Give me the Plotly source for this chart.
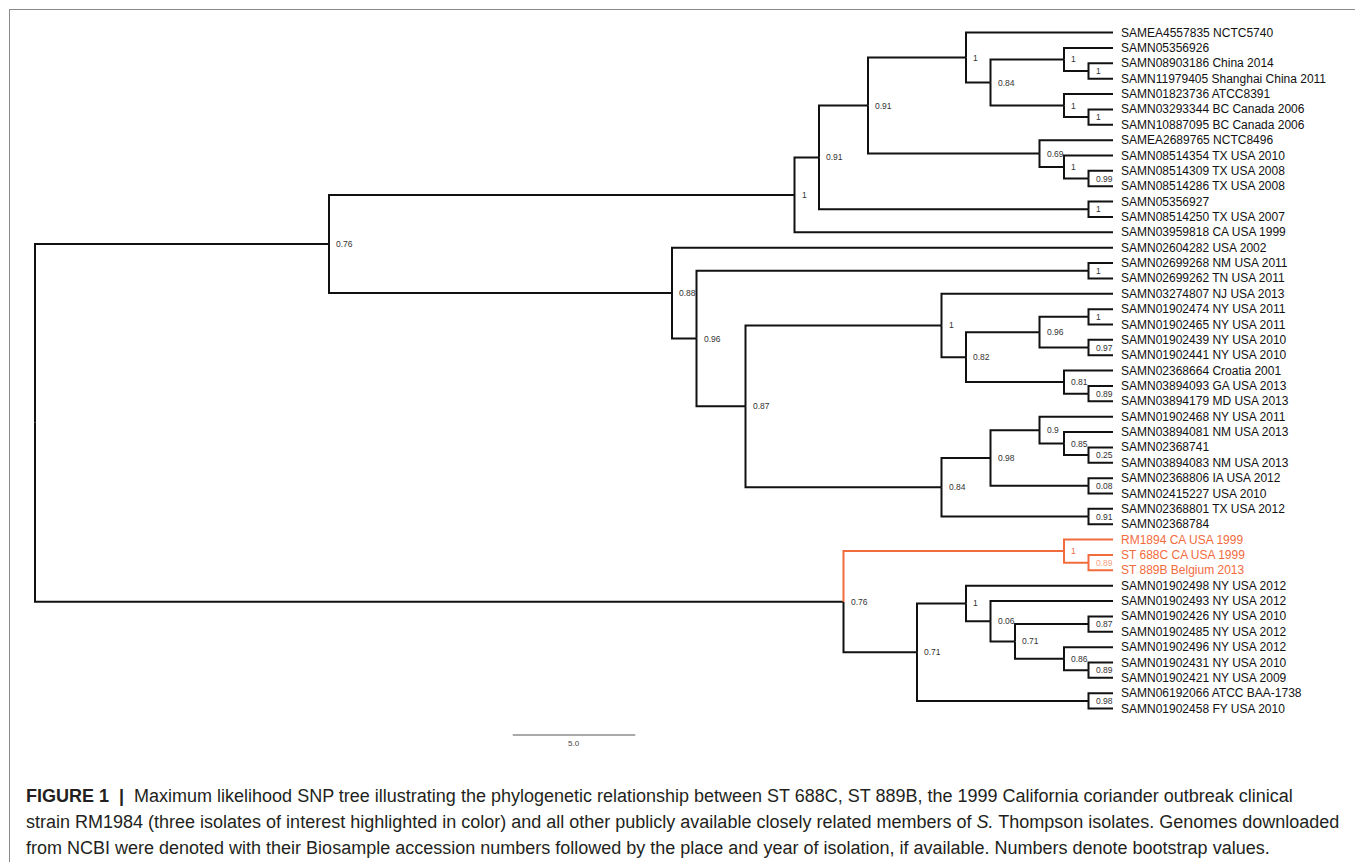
import plotly.graph_objects as go

# ---------------- data ----------------
leaf_labels = [
    "SAMEA4557835 NCTC5740", "SAMN05356926", "SAMN08903186 China 2014",
    "SAMN11979405 Shanghai China 2011", "SAMN01823736 ATCC8391",
    "SAMN03293344 BC Canada 2006", "SAMN10887095 BC Canada 2006",
    "SAMEA2689765 NCTC8496", "SAMN08514354 TX USA 2010", "SAMN08514309 TX USA 2008",
    "SAMN08514286 TX USA 2008", "SAMN05356927", "SAMN08514250 TX USA 2007",
    "SAMN03959818 CA USA 1999", "SAMN02604282 USA 2002", "SAMN02699268 NM USA 2011",
    "SAMN02699262 TN USA 2011", "SAMN03274807 NJ USA 2013", "SAMN01902474 NY USA 2011",
    "SAMN01902465 NY USA 2011", "SAMN01902439 NY USA 2010", "SAMN01902441 NY USA 2010",
    "SAMN02368664 Croatia 2001", "SAMN03894093 GA USA 2013", "SAMN03894179 MD USA 2013",
    "SAMN01902468 NY USA 2011", "SAMN03894081 NM USA 2013", "SAMN02368741",
    "SAMN03894083 NM USA 2013", "SAMN02368806 IA USA 2012", "SAMN02415227 USA 2010",
    "SAMN02368801 TX USA 2012", "SAMN02368784", "RM1894 CA USA 1999",
    "ST 688C CA USA 1999", "ST 889B Belgium 2013", "SAMN01902498 NY USA 2012",
    "SAMN01902493 NY USA 2012", "SAMN01902426 NY USA 2010", "SAMN01902485 NY USA 2012",
    "SAMN01902496 NY USA 2012", "SAMN01902431 NY USA 2010", "SAMN01902421 NY USA 2009",
    "SAMN06192066 ATCC BAA-1738", "SAMN01902458 FY USA 2010",
]
leaf_parent = [
    "E", "G", "H", "H", "I", "J", "J", "K", "L", "M", "M", "N", "N", "B", "O",
    "Q", "Q", "T", "W", "W", "X", "X", "Y", "Z", "Z", "AC", "AD", "AE", "AE",
    "AF", "AF", "AG", "AG", "BB", "BC", "BC", "BE", "BF", "BH", "BH", "BI",
    "BJ", "BJ", "BK", "BK",
]
leaf_branch = [
    6, 2, 1, 1, 2, 1, 1, 3, 2, 1, 1, 1, 1, 13, 18,
    1, 1, 7, 1, 1, 1, 1, 2, 1, 1, 3, 2, 1, 1,
    1, 1, 1, 1, 2, 1, 1, 6, 5, 1, 1, 2,
    1, 1, 1, 1,
]

node_ids = ["R", "A", "B", "C", "D", "E", "F", "G", "H", "I", "J", "K", "L", "M", "N",
            "O", "P", "Q", "S", "T", "U", "V", "W", "X", "Y", "Z", "AA", "AB", "AC",
            "AD", "AE", "AF", "AG", "BA", "BB", "BC", "BD", "BE", "BF", "BG", "BH",
            "BI", "BJ", "BK"]
node_parent = [None, "R", "A", "B", "C", "D", "E", "F", "G", "F", "I", "D", "K", "L", "C",
               "A", "O", "P", "P", "S", "T", "U", "V", "V", "U", "Y", "S", "AA", "AB",
               "AC", "AD", "AB", "AA", "R", "BA", "BB", "BA", "BD", "BE", "BF", "BG",
               "BG", "BI", "BD"]
node_branch = [0, 12, 19, 1, 2, 4, 1, 3, 1, 3, 1, 7, 1, 1, 11,
               14, 1, 16, 2, 8, 1, 3, 2, 2, 4, 1, 8, 2, 2,
               1, 1, 4, 6, 33, 9, 1, 3, 2, 1, 1, 3,
               2, 1, 7]
node_support = ["", "0.76", "1", "0.91", "0.91", "1", "0.84", "1", "1", "1", "1", "0.69", "1",
                "0.99", "1", "0.88", "0.96", "1", "0.87", "1", "0.82", "0.96", "1", "0.97",
                "0.81", "0.89", "0.84", "0.98", "0.9", "0.85", "0.25", "0.08", "0.91",
                "0.76", "1", "0.89", "0.71", "1", "0.06", "0.71", "0.87", "0.86", "0.89",
                "0.98"]

highlighted = ["RM1894 CA USA 1999", "ST 688C CA USA 1999", "ST 889B Belgium 2013"]
scale_length = 5.0

caption_lines = [
    "<b>FIGURE 1</b>&nbsp; <b>|</b>&nbsp; Maximum likelihood SNP tree illustrating the phylogenetic relationship between ST 688C, ST 889B, the 1999 California coriander outbreak clinical",
    "strain RM1984 (three isolates of interest highlighted in color) and all other publicly available closely related members of <i>S.</i> Thompson isolates. Genomes downloaded",
    "from NCBI were denoted with their Biosample accession numbers followed by the place and year of isolation, if available. Numbers denote bootstrap values.",
]

# ---------------- styling ----------------
W, H = 1355, 862
BLACK = "#111111"
ORANGE = "#F26B3D"
ORANGE_LIGHT = "#F7A184"
LABEL_GRAY = "#333333"
TREE_FONT = "Liberation Sans, Arial, sans-serif"

# pixel mapping (layout only)
ROOT_PX, TIP_PX = 35.0, 1113.0
TOP_PX, BOT_PX = 32.6, 708.6

# ---------------- tree layout ----------------
depth = {}
idx = {n: i for i, n in enumerate(node_ids)}


def node_depth(n):
    if n in depth:
        return depth[n]
    i = idx[n]
    p = node_parent[i]
    d = node_branch[i] + (node_depth(p) if p is not None else 0)
    depth[n] = d
    return d


for n in node_ids:
    node_depth(n)

children = {n: [] for n in node_ids}
for n, p in zip(node_ids, node_parent):
    if p is not None:
        children[p].append(("node", n))
for li, p in enumerate(leaf_parent):
    children[p].append(("leaf", li))

leaf_x = [depth[p] + b for p, b in zip(leaf_parent, leaf_branch)]
leaf_y = list(range(len(leaf_labels)))

max_depth = max(leaf_x)
n_leaves = len(leaf_labels)

node_y = {}
node_leaves = {}


def compute_y(n):
    ys = []
    lv = []
    for kind, c in children[n]:
        if kind == "leaf":
            ys.append(leaf_y[c])
            lv.append(c)
        else:
            compute_y(c)
            ys.append(node_y[c])
            lv.extend(node_leaves[c])
    node_y[n] = (min(ys) + max(ys)) / 2
    node_leaves[n] = lv


compute_y("R")
hl_idx = {leaf_labels.index(h) for h in highlighted}


def is_hl(kind, c):
    if kind == "leaf":
        return c in hl_idx
    return all(l in hl_idx for l in node_leaves[c])


segs = {BLACK: ([], []), ORANGE: ([], [])}
for n in node_ids:
    px, py = depth[n], node_y[n]
    for kind, c in children[n]:
        if kind == "leaf":
            cx, cy = leaf_x[c], leaf_y[c]
        else:
            cx, cy = depth[c], node_y[c]
        col = ORANGE if is_hl(kind, c) else BLACK
        xs, ys = segs[col]
        xs += [px, px, cx, None]
        ys += [py, cy, cy, None]

# axis ranges so that the tree sits at its pixel position
ux = (TIP_PX - ROOT_PX) / max_depth
x_range = [-ROOT_PX / ux, (W - ROOT_PX) / ux]
uy = (BOT_PX - TOP_PX) / (n_leaves - 1)
y_range = [(H - TOP_PX) / uy, -TOP_PX / uy]

fig = go.Figure()
for col, (xs, ys) in segs.items():
    fig.add_trace(go.Scatter(x=xs, y=ys, mode="lines",
                             line=dict(color=col, width=2),
                             hoverinfo="skip", showlegend=False))

annotations = []
for i, lab in enumerate(leaf_labels):
    annotations.append(dict(x=leaf_x[i], y=leaf_y[i], text=lab, xanchor="left", yanchor="middle",
                            xshift=6, yshift=0, showarrow=False,
                            font=dict(family=TREE_FONT, size=12,
                                      color=ORANGE if i in hl_idx else BLACK)))

for n, s in zip(node_ids, node_support):
    if not s:
        continue
    hl = all(l in hl_idx for l in node_leaves[n])
    pair = all(k == "leaf" for k, _ in children[n])
    col = (ORANGE_LIGHT if pair else ORANGE) if hl else LABEL_GRAY
    annotations.append(dict(x=depth[n], y=node_y[n], text=s, xanchor="left", yanchor="middle",
                            xshift=5, showarrow=False,
                            font=dict(family=TREE_FONT, size=8.5, color=col)))

# scale bar
sb_x0 = 19.5
sb_y = (735 - TOP_PX) / uy
fig.add_trace(go.Scatter(x=[sb_x0, sb_x0 + scale_length], y=[sb_y, sb_y], mode="lines",
                         line=dict(color="#555555", width=1), hoverinfo="skip", showlegend=False))
annotations.append(dict(x=sb_x0 + scale_length / 2, y=sb_y, text=f"{scale_length:.1f}",
                        yanchor="top", yshift=-2, showarrow=False,
                        font=dict(family=TREE_FONT, size=8, color="#444444")))

# caption
cap_y = [796, 822, 848]
for line, cy in zip(caption_lines, cap_y):
    annotations.append(dict(x=24 / W, y=1 - cy / H, xref="paper", yref="paper", text=line,
                            xanchor="left", yanchor="middle", showarrow=False,
                            font=dict(family="Liberation Sans, Arial", size=18,
                                      color="#231F20")))

shapes = [
    dict(type="line", xref="paper", yref="paper", x0=9 / W, x1=1.0, y0=1 - 9.5 / H, y1=1 - 9.5 / H,
         line=dict(color="#8a8a8a", width=1)),
    dict(type="line", xref="paper", yref="paper", x0=9.5 / W, x1=9.5 / W, y0=0, y1=1 - 9 / H,
         line=dict(color="#8a8a8a", width=1)),
]

fig.update_layout(
    width=W, height=H, margin=dict(l=0, r=0, t=0, b=0),
    paper_bgcolor="white", plot_bgcolor="white",
    xaxis=dict(range=x_range, visible=False, fixedrange=True),
    yaxis=dict(range=y_range, visible=False, fixedrange=True),
    annotations=annotations, shapes=shapes, showlegend=False,
)

fig.write_html("out.html", config={"displayModeBar": False},
               post_script="document.body.style.margin='0';document.body.style.overflow='hidden';")
